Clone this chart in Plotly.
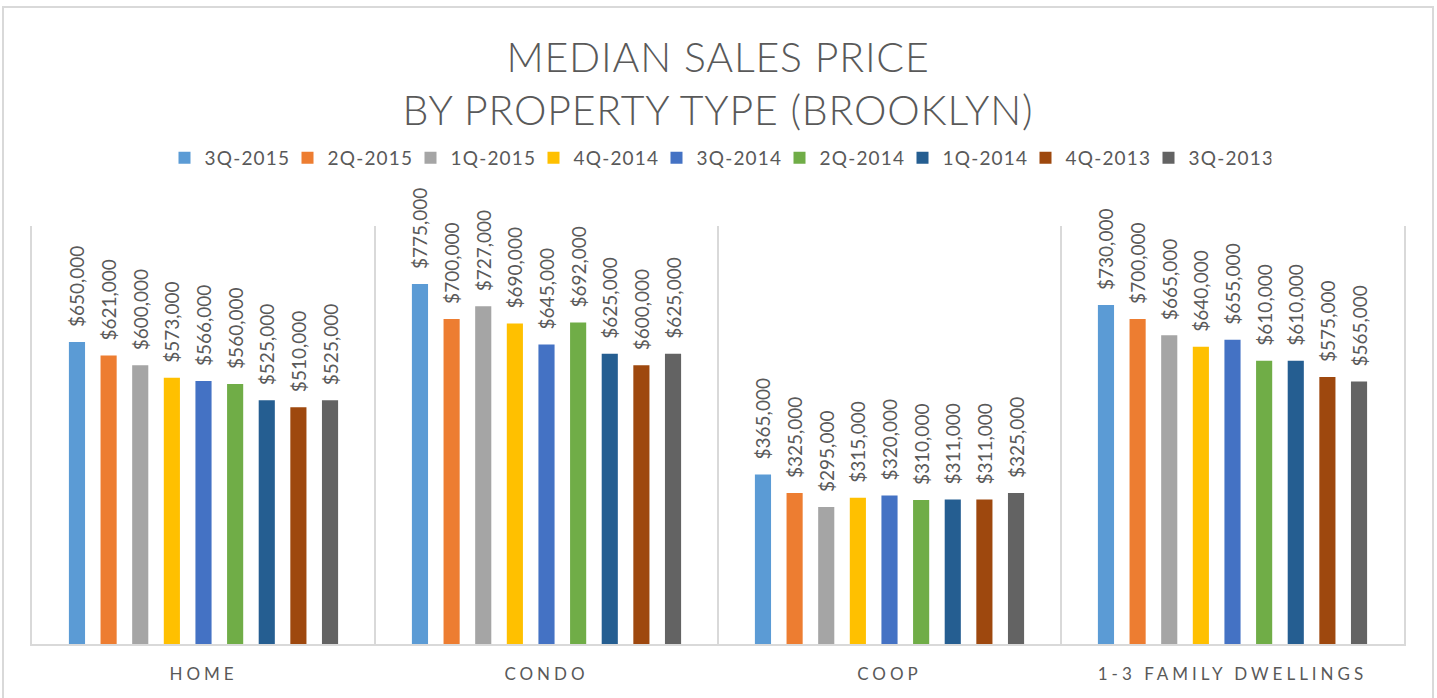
import plotly.graph_objects as go

# ---------------- data ----------------
categories = ["HOME", "CONDO", "COOP", "1-3 FAMILY DWELLINGS"]
series_names = ["3Q-2015", "2Q-2015", "1Q-2015", "4Q-2014", "3Q-2014",
                "2Q-2014", "1Q-2014", "4Q-2013", "3Q-2013"]
q3_2015 = [650000, 775000, 365000, 730000]
q2_2015 = [621000, 700000, 325000, 700000]
q1_2015 = [600000, 727000, 295000, 665000]
q4_2014 = [573000, 690000, 315000, 640000]
q3_2014 = [566000, 645000, 320000, 655000]
q2_2014 = [560000, 692000, 310000, 610000]
q1_2014 = [525000, 625000, 311000, 610000]
q4_2013 = [510000, 600000, 311000, 575000]
q3_2013 = [525000, 625000, 325000, 565000]
series_values = [q3_2015, q2_2015, q1_2015, q4_2014, q3_2014,
                 q2_2014, q1_2014, q4_2013, q3_2013]

# ---------------- style ----------------
colors = ["#5B9BD5", "#ED7D31", "#A5A5A5", "#FFC000", "#4472C4",
          "#70AD47", "#255E91", "#9E480E", "#636363"]
W, H = 1437, 698
ML, MR, MT, MB = 32, 33, 226, 54
Y_MAX = 900000
TEXT = "#595959"
GRID = "#D9D9D9"
FONT = "Lato"
LABEL_GAP_PX = 12
plot_h = H - MT - MB
plot_w = W - ML - MR
gap_units = LABEL_GAP_PX * Y_MAX / plot_h


def spaced(s, px):
    return f"<span style='letter-spacing:{px}px'>{s}</span>"


fig = go.Figure()
for i, (name, vals, col) in enumerate(zip(series_names, series_values, colors)):
    fig.add_trace(go.Bar(
        x=categories, y=vals, name=spaced(name, 1.2), marker_color=col,
        marker_line_width=0, offsetgroup=str(i),
        hovertemplate="%{x}<br>" + name + ": $%{y:,.0f}<extra></extra>",
    ))
for i, vals in enumerate(series_values):
    fig.add_trace(go.Bar(
        x=categories, y=[gap_units] * len(vals), base=vals,
        offsetgroup=str(i), showlegend=False, hoverinfo="skip",
        marker_color="rgba(0,0,0,0)", marker_line_width=0,
        text=[f"${v:,.0f}" for v in vals], textposition="outside",
        textangle=-90, constraintext="none", cliponaxis=False,
        textfont=dict(family=FONT, size=19, color=TEXT),
    ))

title_text = (spaced("MEDIAN SALES PRICE", 0.8) + "<br>" +
              spaced("BY PROPERTY TYPE (BROOKLYN)", 0.8))

fig.update_layout(
    width=W, height=H,
    margin=dict(l=ML, r=MR, t=MT, b=MB),
    paper_bgcolor="white", plot_bgcolor="white",
    barmode="group", bargap=0.17, bargroupgap=0.49,
    font=dict(family=FONT, color=TEXT),
    title=dict(text=title_text, x=0.5, xanchor="center",
               xref="paper", yref="container", y=1 - 72 / H, yanchor="top",
               font=dict(family=FONT, size=41, color=TEXT, weight=300)),
    legend=dict(orientation="h", x=0.5, xanchor="center", xref="paper",
                yref="container", y=1 - 158 / H, yanchor="middle",
                font=dict(family=FONT, size=19, color=TEXT),
                itemwidth=30, entrywidth=78, entrywidthmode="pixels",
                traceorder="normal", bgcolor="rgba(0,0,0,0)"),
    xaxis=dict(type="category", tickson="boundaries", showgrid=True,
               gridcolor=GRID, gridwidth=1.5, showline=True,
               linecolor=GRID, linewidth=1.5, ticks="",
               ticklabelstandoff=14,
               tickfont=dict(family=FONT, size=17, color=TEXT),
               tickvals=categories,
               ticktext=[spaced(c, 4) for c in categories]),
    yaxis=dict(range=[0, Y_MAX], showgrid=False, zeroline=False,
               showticklabels=False, ticks="", showline=True, mirror=True,
               linecolor=GRID, linewidth=1.5),
    showlegend=True,
)

# outer chart border (bottom edge lies just outside the visible page)
fig.add_shape(type="rect", xref="paper", yref="paper",
              x0=(3 - ML) / plot_w, x1=(W - 4 - ML) / plot_w,
              y0=(H - 704 - MB) / plot_h, y1=(H - 7 - MB) / plot_h,
              line=dict(color=GRID, width=2), fillcolor="rgba(0,0,0,0)",
              layer="below")

fig.write_html("out.html",
               config={"displayModeBar": False},
               post_script="document.body.style.margin='0';"
                           "document.body.style.overflow='hidden';")
